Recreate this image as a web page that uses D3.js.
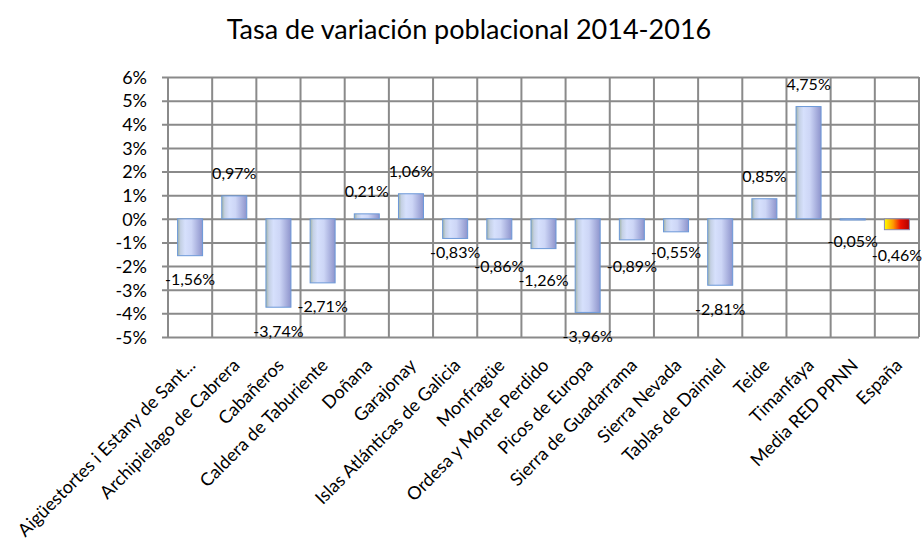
<!DOCTYPE html>
<html>
<head>
<meta charset="utf-8">
<script src="https://cdn.jsdelivr.net/npm/d3@7"></script>
<style>
    body { margin: 0; background: #fff; }
    svg text { font-family: Lato, "Open Sans", sans-serif; fill: #000; }
</style>
</head>
<body>
<svg id="chart"></svg>
<script>
const title = 'Tasa de variación poblacional 2014-2016';

const categories = [
    'Aigüestortes i Estany de Sant...', 'Archipielago de Cabrera', 'Cabañeros',
    'Caldera de Taburiente', 'Doñana', 'Garajonay', 'Islas Atlánticas de Galicia',
    'Monfragüe', 'Ordesa y Monte Perdido', 'Picos de Europa', 'Sierra de Guadarrama',
    'Sierra Nevada', 'Tablas de Daimiel', 'Teide', 'Timanfaya', 'Media RED PPNN', 'España'
];

const values = [
    -1.56, 0.97, -3.74, -2.71, 0.21, 1.06, -0.83, -0.86, -1.26, -3.96,
    -0.89, -0.55, -2.81, 0.85, 4.75, -0.05, -0.46
];

const yTicks = [-5, -4, -3, -2, -1, 0, 1, 2, 3, 4, 5, 6];

const width = 923;
const height = 540;
const margin = {top: 77, right: 4, bottom: 203, left: 168};

const chart = d3.select('#chart')
    .attr('width', width)
    .attr('height', height);

const x = d3.scaleBand()
    .domain(categories)
    .range([margin.left, width - margin.right])
    .paddingInner(0)
    .paddingOuter(0);

const y = d3.scaleLinear()
    .domain([-5, 6])
    .range([height - margin.bottom, margin.top]);

const fmt = function(v) {
    return v.toFixed(2).replace('.', ',') + '%';
};

// gradients
const defs = chart.append('defs');
const blue = defs.append('linearGradient')
    .attr('id', 'barBlue')
    .attr('x1', '0%').attr('x2', '100%').attr('y1', '0%').attr('y2', '0%');
[['0%', '#9fb3a4'], ['12%', '#c4d0e4'], ['30%', '#d6e0fc'], ['55%', '#cdd6f6'], ['100%', '#8e94cc']]
    .forEach(function(s) {
        blue.append('stop').attr('offset', s[0]).attr('stop-color', s[1]);
    });
const fire = defs.append('linearGradient')
    .attr('id', 'barFire')
    .attr('x1', '0%').attr('x2', '100%').attr('y1', '0%').attr('y2', '0%');
[['0%', '#ffff00'], ['35%', '#ff9900'], ['65%', '#ee1100'], ['100%', '#b00000']]
    .forEach(function(s) {
        fire.append('stop').attr('offset', s[0]).attr('stop-color', s[1]);
    });

chart.append('text')
    .attr('x', 469)
    .attr('y', 39)
    .attr('text-anchor', 'middle')
    .style('font-size', '27px')
    .text(title);

// horizontal grid + y axis
const yAxis = chart.append('g')
    .attr('transform', `translate(${margin.left}, 0)`)
    .call(d3.axisLeft(y)
        .tickValues(yTicks)
        .tickSize(-(width - margin.right - margin.left))
        .tickSizeOuter(0)
        .tickPadding(21)
        .tickFormat(function(d) { return d + '%'; }));
yAxis.select('.domain').remove();
yAxis.selectAll('line')
    .attr('x1', -6)
    .attr('stroke', '#8a8a8a')
    .attr('stroke-width', 2);
yAxis.selectAll('text')
    .style('font-size', '18px')
    .attr('dy', '.35em');

// vertical grid lines at category boundaries
const edges = categories.map(function(c) { return x(c); })
    .concat([x(categories[categories.length - 1]) + x.bandwidth()]);
chart.append('g')
    .selectAll('line')
    .data(edges)
    .enter()
    .append('line')
    .attr('x1', function(d) { return d; })
    .attr('x2', function(d) { return d; })
    .attr('y1', y(6))
    .attr('y2', y(-5))
    .attr('stroke', '#8a8a8a')
    .attr('stroke-width', 2);

// bars
const barWidth = 25;
const bars = chart.append('g')
    .selectAll('g')
    .data(values)
    .enter()
    .append('g');

bars.append('rect')
    .attr('x', function(d, i) { return x(categories[i]) + x.bandwidth() / 2 - barWidth / 2; })
    .attr('y', function(d) { return y(Math.max(0, d)); })
    .attr('width', barWidth)
    .attr('height', function(d) { return Math.abs(y(d) - y(0)); })
    .attr('fill', function(d, i) {
        return i === values.length - 1 ? 'url(#barFire)' : 'url(#barBlue)';
    })
    .attr('stroke', function(d, i) {
        return i === values.length - 1 ? '#8a8ab0' : '#6b98d8';
    })
    .attr('stroke-width', 1);

const labels = bars.append('text')
    .attr('x', function(d, i) { return x(categories[i]) + x.bandwidth() / 2; })
    .attr('dy', '.35em')
    .attr('text-anchor', 'middle')
    .style('font-size', '16px')
    .text(fmt);

// push overlapping value labels apart (negatives only, they crowd)
const pos = values.map(function(d, i) {
    return {
        x: x(categories[i]) + x.bandwidth() / 2,
        y: d >= 0 ? y(d) - 22 : y(d) + 24,
        min: d >= 0 ? -Infinity : y(d) + 11,
        neg: d < 0
    };
});
labels.each(function(d, i) { pos[i].w = this.getComputedTextLength(); });
for (let k = 0; k < 40; k++) {
    for (let i = 0; i < pos.length - 1; i++) {
        const a = pos[i], b = pos[i + 1];
        if (!a.neg || !b.neg) continue;
        const hOverlap = (a.w + b.w) / 2 - Math.abs(b.x - a.x);
        const gap = Math.abs(b.y - a.y);
        if (hOverlap > 2 && gap < 14) {
            const push = (14 - gap) / 2;
            const up = a.y <= b.y ? a : b;
            const down = up === a ? b : a;
            up.y = Math.max(up.min, up.y - push);
            down.y += push;
        }
    }
}
labels.attr('y', function(d, i) { return pos[i].y; });

// category labels
chart.append('g')
    .selectAll('text')
    .data(categories)
    .enter()
    .append('text')
    .attr('transform', function(d) {
        return `translate(${x(d) + x.bandwidth() / 2 + 2}, ${y(-5) + 25}) rotate(-45)`;
    })
    .attr('text-anchor', 'end')
    .attr('dy', '.35em')
    .style('font-size', '18px')
    .text(function(d) { return d; });
</script>
</body>
</html>
